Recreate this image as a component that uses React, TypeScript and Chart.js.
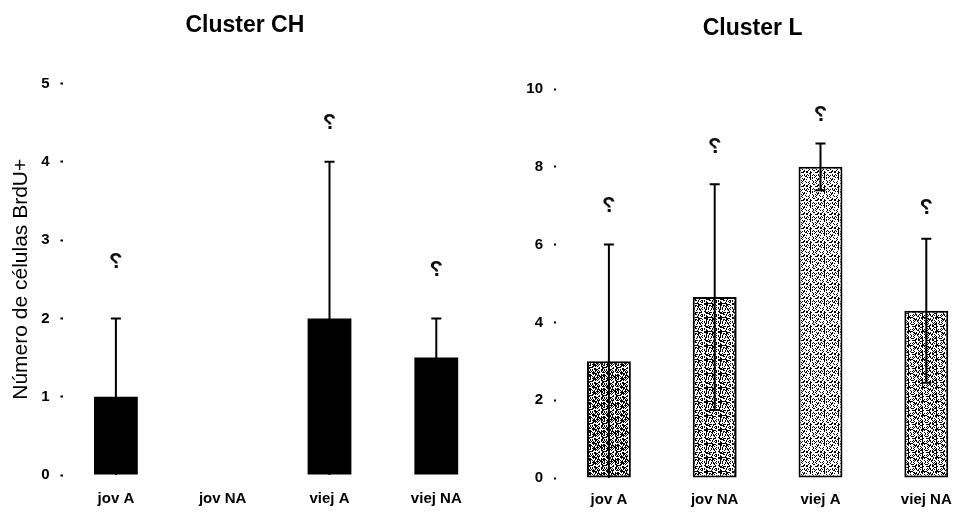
import React, { useEffect, useRef } from "react";
import { Chart, registerables } from "chart.js";

Chart.register(...registerables);

const categories = ["jov A", "jov NA", "viej A", "viej NA"];

const chTitle = "Cluster CH";
const chValues = [1, 0, 2, 1.5];
const chErrors = [1, 0, 2, 0.5];
const chMarks = [2.72, null, 4.5, 2.62];
const chMax = 5;
const chStep = 1;

const lTitle = "Cluster L";
const lValues = [3, 4.65, 8, 4.3];
const lErrors = [3, 2.9, 0.6, 1.85];
const lMarks = [7.0, 8.5, 9.33, 6.94];
const lMax = 10;
const lStep = 2;

const yTitle = "Número de células BrdU+";
const FONT = "'Liberation Sans', Arial, Helvetica, sans-serif";

function makePattern(density: number, seed: number): CanvasPattern | string {
  const size = 14;
  const c = document.createElement("canvas");
  c.width = size;
  c.height = size;
  const g = c.getContext("2d");
  if (!g) return "#888";
  g.fillStyle = "#fff";
  g.fillRect(0, 0, size, size);
  g.fillStyle = "#000";
  for (let x = 0; x < size; x++) {
    for (let y = 0; y < size; y++) {
      const h = (x * 37 + y * 61 + x * y * 17 + seed * 13 + ((x ^ y) * 7)) % 100;
      if (h < density) g.fillRect(x, y, 1, 1);
    }
  }
  const p = g.createPattern(c, "repeat");
  return p || "#888";
}

const errorBarPlugin = {
  id: "errorBars",
  afterDatasetsDraw(chart: any, _args: any, opts: any) {
    const { ctx } = chart;
    const y = chart.scales.y;
    const meta = chart.getDatasetMeta(0);
    const ds = chart.data.datasets[0];
    const errs: number[] = opts.errors || [];
    const marks: (number | null)[] = opts.marks || [];
    meta.data.forEach((bar: any, i: number) => {
      const v = ds.data[i] as number;
      const e = errs[i] || 0;
      ctx.save();
      ctx.strokeStyle = "#000";
      ctx.lineWidth = 2;
      if (e > 0) {
        const top = y.getPixelForValue(v + e);
        const lowVal = Math.max(0, v - e);
        const bot = y.getPixelForValue(lowVal);
        ctx.beginPath();
        ctx.moveTo(bar.x, top);
        ctx.lineTo(bar.x, bot);
        ctx.moveTo(bar.x - 5, top);
        ctx.lineTo(bar.x + 5, top);
        if (lowVal > 0) {
          ctx.moveTo(bar.x - 5, bot);
          ctx.lineTo(bar.x + 5, bot);
        }
        ctx.stroke();
      }
      const m = marks[i];
      if (m !== null && m !== undefined) {
        const my = y.getPixelForValue(m);
        ctx.translate(bar.x, my);
        ctx.scale(-1, 1);
        ctx.fillStyle = "#111";
        ctx.font = `bold 22px ${FONT}`;
        ctx.textAlign = "center";
        ctx.textBaseline = "middle";
        ctx.fillText("?", 0, 0);
      }
      ctx.restore();
    });
  },
};

function buildConfig(opts: {
  title: string;
  values: number[];
  errors: number[];
  marks: (number | null)[];
  max: number;
  step: number;
  colors: any;
  borderWidth: number;
  barPct: number;
  padding: { left: number; right: number };
  titlePad: { top: number; bottom: number };
  yWidth: number;
  xHeight: number;
  xPad: number;
  showYTitle: boolean;
}): any {
  return {
    type: "bar",
    data: {
      labels: categories,
      datasets: [
        {
          data: opts.values,
          backgroundColor: opts.colors,
          borderColor: "#000",
          borderWidth: opts.borderWidth,
          borderSkipped: false,
          categoryPercentage: 1,
          barPercentage: opts.barPct,
        },
      ],
    },
    options: {
      responsive: false,
      animation: false,
      devicePixelRatio: 1,
      layout: { padding: { left: opts.padding.left, right: opts.padding.right, top: 0, bottom: 0 } },
      plugins: {
        legend: { display: false },
        tooltip: { enabled: false },
        title: {
          display: true,
          text: opts.title,
          color: "#000",
          font: { family: FONT, size: 23, weight: "bold", lineHeight: 1.2 },
          padding: opts.titlePad,
        },
        errorBars: { errors: opts.errors, marks: opts.marks },
      },
      scales: {
        x: {
          grid: { display: false, drawTicks: false },
          border: { display: false },
          ticks: {
            color: "#000",
            font: { family: FONT, size: 15, weight: "bold" },
            padding: opts.xPad,
            maxRotation: 0,
          },
          afterFit: (s: any) => {
            s.height = opts.xHeight;
          },
        },
        y: {
          min: 0,
          max: opts.max,
          grid: {
            display: true,
            drawOnChartArea: false,
            drawTicks: true,
            tickLength: 2,
            tickWidth: 2,
            tickColor: "#000",
          },
          border: { display: false },
          ticks: {
            stepSize: opts.step,
            color: "#000",
            padding: 11,
            font: { family: FONT, size: 15, weight: "bold" },
          },
          title: {
            display: opts.showYTitle,
            text: yTitle,
            color: "#000",
            font: { family: FONT, size: 21, lineHeight: 1.2 },
            padding: { top: 9, bottom: 0 },
          },
          afterFit: (s: any) => {
            s.width = opts.yWidth;
          },
        },
      },
    },
    plugins: [errorBarPlugin],
  };
}

export default function App() {
  const leftRef = useRef<HTMLCanvasElement>(null);
  const rightRef = useRef<HTMLCanvasElement>(null);

  useEffect(() => {
    if (!leftRef.current || !rightRef.current) return;
    const left = new Chart(
      leftRef.current,
      buildConfig({
        title: chTitle,
        values: chValues,
        errors: chErrors,
        marks: chMarks,
        max: chMax,
        step: chStep,
        colors: "#000",
        borderWidth: 0,
        barPct: 0.41,
        padding: { left: 0, right: 0.3 },
        titlePad: { top: 12, bottom: 43.9 },
        yWidth: 62.5,
        xHeight: 39,
        xPad: 15,
        showYTitle: true,
      })
    );
    const patterns = [
      makePattern(58, 1),
      makePattern(42, 2),
      makePattern(26, 3),
      makePattern(38, 4),
    ];
    const right = new Chart(
      rightRef.current,
      buildConfig({
        title: lTitle,
        values: lValues,
        errors: lErrors,
        marks: lMarks,
        max: lMax,
        step: lStep,
        colors: patterns,
        borderWidth: 2,
        barPct: 0.415,
        padding: { left: 46, right: 56.8 },
        titlePad: { top: 15, bottom: 46.4 },
        yWidth: 30,
        xHeight: 36,
        xPad: 13,
        showYTitle: false,
      })
    );
    return () => {
      left.destroy();
      right.destroy();
    };
  }, []);

  return (
    <div
      style={{
        position: "fixed",
        left: 0,
        top: 0,
        width: 956,
        height: 514,
        overflow: "hidden",
        background: "#fff",
      }}
    >
      <canvas
        ref={leftRef}
        width={490}
        height={514}
        style={{ position: "absolute", left: 0, top: 0, width: 490, height: 514 }}
      />
      <canvas
        ref={rightRef}
        width={556}
        height={514}
        style={{ position: "absolute", left: 480, top: 0, width: 556, height: 514 }}
      />
    </div>
  );
}
